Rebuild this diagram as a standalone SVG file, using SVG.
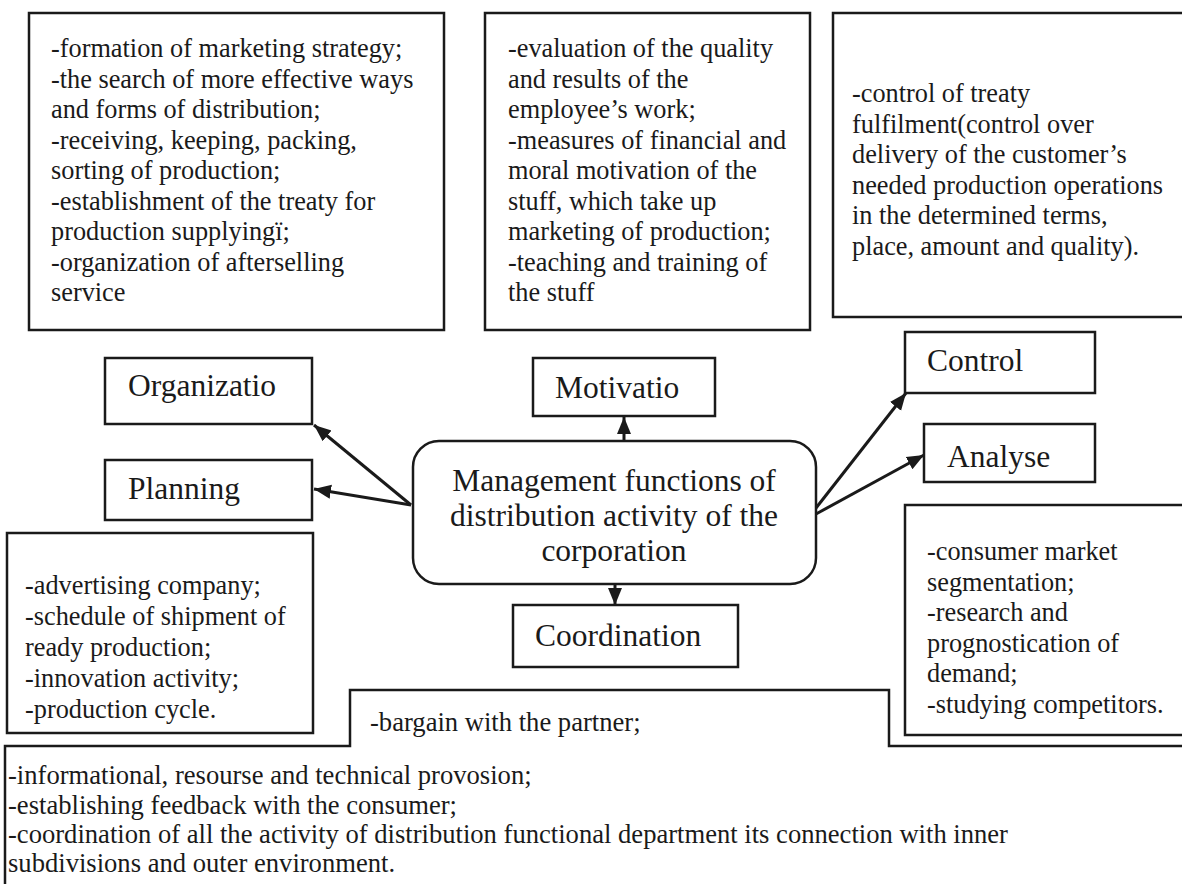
<svg xmlns="http://www.w3.org/2000/svg" width="1182" height="884" viewBox="0 0 1182 884">
<style>
.box{fill:#fff;stroke:#1a1a1a;stroke-width:2.5}
.t{font-family:"Liberation Serif","Times New Roman",serif;fill:#1a1a1a}
.l{font-size:26.3px}
.b{font-size:26.6px}
.lab{font-size:31.5px}
.c{stroke:#1a1a1a;stroke-width:3;fill:none}
</style>
<defs>
<marker id="ah" markerUnits="userSpaceOnUse" markerWidth="18" markerHeight="16" viewBox="0 0 18 16" refX="17" refY="8" orient="auto">
<path d="M0,1 L17,8 L0,15 Z" fill="#1a1a1a"/>
</marker>
</defs>
<rect width="1182" height="884" fill="#fff"/>

<g id="box-organization-tasks">
<rect class="box" x="29" y="13" width="415" height="317"/>
<text class="t l" x="51" y="57">-formation of marketing strategy;</text>
<text class="t l" x="51" y="87.5">-the search of more effective ways</text>
<text class="t l" x="51" y="118">and forms of distribution;</text>
<text class="t l" x="51" y="148.5">-receiving, keeping, packing,</text>
<text class="t l" x="51" y="179">sorting of production;</text>
<text class="t l" x="51" y="209.5">-establishment of the treaty  for</text>
<text class="t l" x="51" y="240">production supplyingï;</text>
<text class="t l" x="51" y="270.5">-organization of afterselling</text>
<text class="t l" x="51" y="301">service</text>
</g>

<g id="box-motivation-tasks">
<rect class="box" x="485" y="13" width="325" height="317"/>
<text class="t l" x="508" y="57">-evaluation of the quality</text>
<text class="t l" x="508" y="87.5">and results of the</text>
<text class="t l" x="508" y="118">employee’s work;</text>
<text class="t l" x="508" y="148.5">-measures of financial and</text>
<text class="t l" x="508" y="179">moral motivation of the</text>
<text class="t l" x="508" y="209.5">stuff, which take up</text>
<text class="t l" x="508" y="240">marketing of production;</text>
<text class="t l" x="508" y="270.5">-teaching and training of</text>
<text class="t l" x="508" y="301">the stuff</text>
</g>

<g id="box-control-tasks">
<rect class="box" x="833" y="13" width="360" height="304"/>
<text class="t l" x="852" y="102">-control of treaty</text>
<text class="t l" x="852" y="132.5">fulfilment(control over</text>
<text class="t l" x="852" y="163">delivery of the  customer’s</text>
<text class="t l" x="852" y="193.5">needed production operations</text>
<text class="t l" x="852" y="224">in the determined terms,</text>
<text class="t l" x="852" y="254.5">place, amount  and quality).</text>
</g>

<g id="organization">
<rect class="box" x="105" y="358" width="207" height="66"/>
<text class="t lab" x="128" y="396">Organizatio</text>
</g>

<g id="motivation">
<rect class="box" x="533" y="358" width="182" height="58"/>
<text class="t lab" x="555" y="398">Motivatio</text>
</g>

<g id="control">
<rect class="box" x="905" y="332" width="190" height="61"/>
<text class="t lab" x="927" y="371">Control</text>
</g>

<g id="analyse">
<rect class="box" x="924" y="424" width="171" height="58"/>
<text class="t lab" x="947" y="467">Analyse</text>
</g>

<g id="planning">
<rect class="box" x="105" y="460" width="207" height="60"/>
<text class="t lab" x="128" y="499">Planning</text>
</g>

<g id="main">
<rect class="box" x="413" y="441" width="403" height="143" rx="26" ry="26"/>
<text class="t lab" x="614" y="491" text-anchor="middle">Management functions of</text>
<text class="t lab" x="614" y="526" text-anchor="middle">distribution activity of the</text>
<text class="t lab" x="614" y="561" text-anchor="middle">corporation</text>
</g>

<g id="coordination">
<rect class="box" x="513" y="605" width="225" height="62"/>
<text class="t lab" x="535" y="646">Coordination</text>
</g>

<g id="box-planning-tasks">
<rect class="box" x="7" y="533" width="306" height="200"/>
<text class="t l" x="25" y="594">-advertising company;</text>
<text class="t l" x="25" y="625">-schedule of shipment of</text>
<text class="t l" x="25" y="656">ready production;</text>
<text class="t l" x="25" y="687">-innovation activity;</text>
<text class="t l" x="25" y="718">-production cycle.</text>
</g>

<g id="box-analyse-tasks">
<rect class="box" x="905" y="505" width="290" height="230"/>
<text class="t l" x="927" y="560">-consumer market</text>
<text class="t l" x="927" y="590.5">segmentation;</text>
<text class="t l" x="927" y="621">-research and</text>
<text class="t l" x="927" y="651.5">prognostication of</text>
<text class="t l" x="927" y="682">demand;</text>
<text class="t l" x="927" y="712.5">-studying competitors.</text>
</g>

<g id="box-coordination-tasks">
<path d="M5,890 L5,746 L350,746 L350,690 L889,690 L889,746 L1190,746" fill="none" stroke="#1a1a1a" stroke-width="2.5"/>
<text class="t b" x="370" y="731">-bargain with the partner;</text>
<text class="t b" x="8" y="784">-informational, resourse and technical provosion;</text>
<text class="t b" x="8" y="814">-establishing feedback with the consumer;</text>
<text class="t b" x="8" y="843">-coordination of all the activity of distribution functional department its connection with inner</text>
<text class="t b" x="8" y="872">subdivisions and outer environment.</text>
</g>

<g id="connectors">
<line class="c" x1="411" y1="505" x2="314" y2="425" marker-end="url(#ah)"/>
<line class="c" x1="411" y1="505" x2="314" y2="489" marker-end="url(#ah)"/>
<line class="c" x1="624" y1="441" x2="624" y2="417" marker-end="url(#ah)"/>
<line class="c" x1="615" y1="584" x2="615" y2="605" marker-end="url(#ah)"/>
<line class="c" x1="816" y1="508" x2="906" y2="393" marker-end="url(#ah)"/>
<line class="c" x1="816" y1="514" x2="924" y2="455" marker-end="url(#ah)"/>
</g>
</svg>
